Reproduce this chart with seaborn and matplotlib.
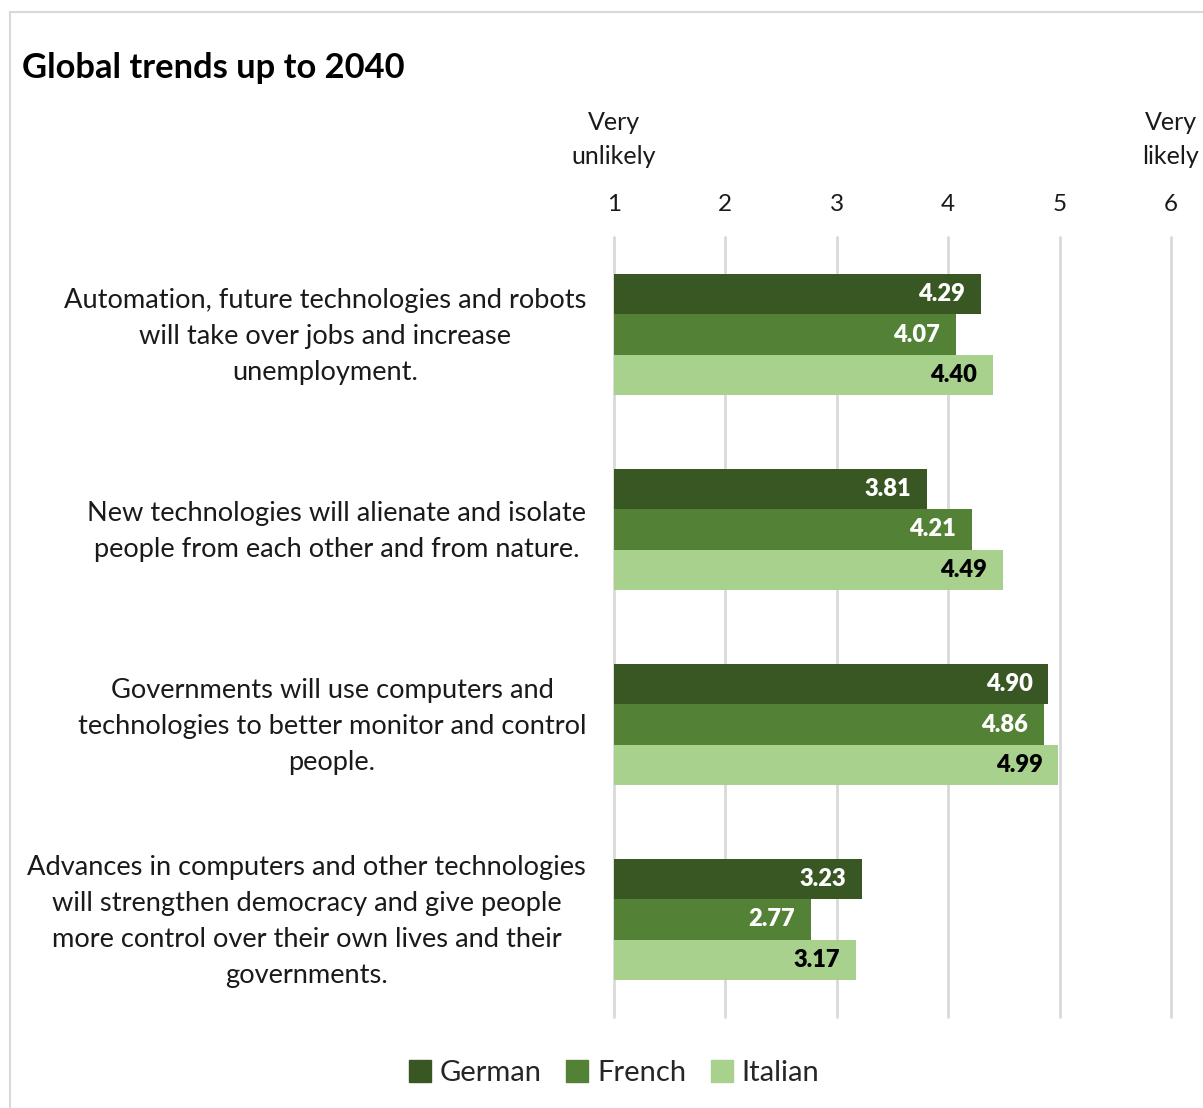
import matplotlib
matplotlib.use("Agg")
import matplotlib.pyplot as plt
from matplotlib.patches import Rectangle
import pandas as pd
import seaborn as sns

# Survey statements (1 = very unlikely, 6 = very likely)
statements = [
    "Automation, future technologies and robots\nwill take over jobs and increase\nunemployment.",
    "New technologies will alienate and isolate\npeople from each other and from nature.",
    "Governments will use computers and\ntechnologies to better monitor and control\npeople.",
    "Advances in computers and other technologies\nwill strengthen democracy and give people\nmore control over their own lives and their\ngovernments.",
]
groups = ["German", "French", "Italian"]
german = [4.29, 3.81, 4.90, 3.23]
french = [4.07, 4.21, 4.86, 2.77]
italian = [4.40, 4.49, 4.99, 3.17]
scale_ticks = [1, 2, 3, 4, 5, 6]

colors = {"German": "#385723", "French": "#538135", "Italian": "#a9d18e"}
label_colors = {"German": "white", "French": "white", "Italian": "black"}

rows = []
for i, s in enumerate(statements):
    for g, vals in zip(groups, [german, french, italian]):
        rows.append({"statement": s, "group": g, "score": vals[i]})
df = pd.DataFrame(rows)

sns.set_theme(style="white")
plt.rcParams["font.family"] = ["Lato", "DejaVu Sans"]

W, H = 1203, 1108
fig = plt.figure(figsize=(W / 100, H / 100), dpi=100)
ax = fig.add_axes([614 / W, 1 - 1017 / H, (1171 - 614) / W, (1017 - 237) / H])

sns.barplot(data=df, y="statement", x="score", hue="group", order=statements,
            hue_order=groups, palette=colors, orient="h", width=0.62,
            linewidth=0, saturation=1, ax=ax, legend=False, zorder=3)

ax.set_xlim(1, 6)
ax.set_ylim(len(statements) - 0.5, -0.5)
for sp in ax.spines.values():
    sp.set_visible(False)

# vertical gridlines at every scale point
for v in scale_ticks:
    ax.axvline(v, color="#d9d9d9", lw=2, zorder=1, clip_on=False)

ax.xaxis.tick_top()
ax.set_xticks(scale_ticks)
ax.set_xticklabels([str(v) for v in scale_ticks], fontsize=17.5, color="#1a1a1a")
ax.tick_params(axis="x", length=0, pad=16)
ax.set_xlabel("")
ax.set_ylabel("")
ax.set_yticks([])

# statement labels, centred block to the left of the bars
for i, s in enumerate(statements):
    ax.annotate(s, xy=(0, i), xycoords=ax.get_yaxis_transform(),
                xytext=(-20, -1.5), textcoords="offset points",
                ha="right", va="center", multialignment="center",
                fontsize=19.6, color="#1a1a1a", linespacing=1.55,
                annotation_clip=False)

# value labels inside bar ends
for cont, g in zip(ax.containers, groups):
    labels = ax.bar_label(cont, labels=[f"{v:.2f}" for v in cont.datavalues],
                          padding=-11.5, color=label_colors[g], fontsize=17)
    for t in labels:
        t.set_ha("right")
        t.set_fontweight("heavy")

# scale end descriptors
ax.text(1, 1.089, "Very\nunlikely", transform=ax.get_xaxis_transform(),
        ha="center", va="bottom", fontsize=18, color="#1a1a1a", linespacing=1.55)
ax.text(6, 1.089, "Very\nlikely", transform=ax.get_xaxis_transform(),
        ha="center", va="bottom", fontsize=18, color="#1a1a1a", linespacing=1.55)

fig.text(22 / W, 1 - 68 / H, "Global trends up to 2040", fontsize=24.8,
         fontweight="bold", ha="left", va="center", color="black")

handles = [Rectangle((0, 0), 1, 1, color=colors[g]) for g in groups]
fig.legend(handles, groups, loc="center", bbox_to_anchor=(614 / W, 1 - 1073 / H),
           ncol=3, frameon=False, fontsize=21, handlelength=0.75, handleheight=0.75,
           handletextpad=0.3, columnspacing=0.85)

# chart frame
fig.patches.append(Rectangle((10 / W, -0.1), 1.2, 1 - 12 / H + 0.1,
                             transform=fig.transFigure, fill=False,
                             edgecolor="#d9d9d9", lw=1.5))

fig.savefig("out.png", dpi=100, facecolor="white")
